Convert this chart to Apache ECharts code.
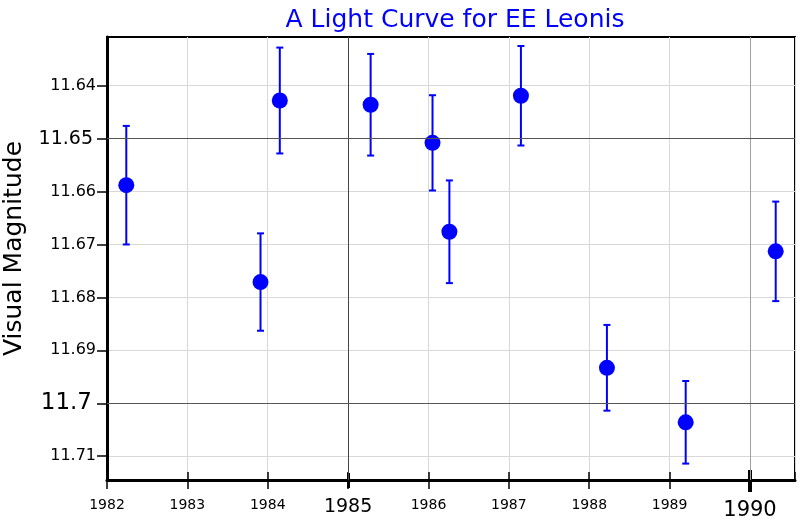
<!DOCTYPE html>
<html>
<head>
<meta charset="utf-8">
<script src="https://cdn.jsdelivr.net/npm/echarts@6/dist/echarts.min.js"></script>
<style>html,body{margin:0;padding:0;background:#fff;}#c{width:800px;height:520px;}</style>
</head>
<body>
<div id="c"></div>
<script>
// ---- data ----
const years  = [1982.24, 1983.91, 1984.15, 1985.28, 1986.05, 1986.26, 1987.15, 1988.22, 1989.20, 1990.32];
const mags   = [11.6588, 11.6771, 11.6428, 11.6436, 11.6508, 11.6676, 11.6419, 11.6933, 11.7036, 11.6713];
const errors = [0.0112, 0.0092, 0.0100, 0.0096, 0.0090, 0.0097, 0.0094, 0.0081, 0.0078, 0.0094];
const yTicks = [11.64, 11.65, 11.66, 11.67, 11.68, 11.69, 11.70, 11.71];
const xMajor = [1985, 1990];
const yMajor = [11.65, 11.70];
const xRange = [1982, 1990.56];
const yRange = [11.6308, 11.7145];

const FONT = 'DejaVu Sans';
const pts = years.map((x, i) => [x, mags[i]]);
const bars = years.map((x, i) => [x, mags[i] - errors[i], mags[i] + errors[i]]);

const chart = echarts.init(document.getElementById('c'), null, {renderer: 'canvas'});

const gridCfg = {left: 107, top: 37, right: 5, bottom: 40, show: true, borderColor: '#000', borderWidth: 2,
  backgroundColor: 'transparent', containLabel: false, outerBoundsMode: 'none'};

function xAxisBase(extra) {
  return Object.assign({
    type: 'value', min: xRange[0], max: xRange[1], interval: 1, position: 'bottom',
    axisLine: {show: false}, axisLabel: {show: false}, splitLine: {show: false},
    axisTick: {show: false}
  }, extra);
}
function tick(inside, len, width, values) {
  const t = {show: true, inside: inside, length: len, lineStyle: {color: '#000', width: width}};
  if (values) t.customValues = values;
  return {axisTick: t};
}

const option = {
  backgroundColor: '#fff',
  animation: false,
  title: {
    text: 'A Light Curve for EE Leonis',
    left: 450, top: 3, textAlign: 'center',
    textStyle: {color: '#0000ff', fontSize: 25, fontWeight: 'normal', fontFamily: FONT}
  },
  grid: gridCfg,
  xAxis: [
    xAxisBase({
      axisLine: {show: true, onZero: false, lineStyle: {color: '#000', width: 3}},
      axisTick: {show: true, inside: false, length: 9, lineStyle: {color: '#000', width: 1.5}},
      splitLine: {show: true, lineStyle: {color: '#d8d8d8', width: 1}},
      axisLabel: {
        show: true, margin: 18, fontFamily: FONT, color: '#000',
        formatter: function (v) {
          if (v === 1990) return '{big|1990}';
          if (v === 1985) return '{mid|1985}';
          return '{sm|' + v + '}';
        },
        rich: {
          sm: {fontSize: 14, fontFamily: FONT, color: '#000'},
          mid: {fontSize: 19, fontFamily: FONT, color: '#000'},
          big: {fontSize: 21, fontFamily: FONT, color: '#000', padding: [2, 0, 0, 0]}
        }
      }
    }),
    xAxisBase(tick(true, 8, 1.5)),
    xAxisBase(tick(false, 8, 3, [xMajor[0]])),
    xAxisBase(tick(true, 7, 3, [xMajor[0]])),
    xAxisBase(tick(false, 12, 4, [xMajor[1]])),
    xAxisBase(tick(true, 10, 4, [xMajor[1]]))
  ],
  yAxis: {
    type: 'value', inverse: true, min: yRange[0], max: yRange[1],
    name: 'Visual Magnitude', nameLocation: 'middle', nameRotate: 90, nameGap: 80,
    nameTextStyle: {fontSize: 25, fontFamily: FONT, color: '#000', padding: [0, 0, 0, 20]},
    axisLine: {show: true, onZero: false, lineStyle: {color: '#000', width: 3}},
    axisTick: {show: true, inside: false, length: 10, customValues: yTicks, lineStyle: {color: '#000', width: 1.5}},
    splitLine: {show: true, lineStyle: {color: '#d8d8d8', width: 1}},
    axisLabel: {
      show: true, margin: 11, customValues: yTicks, fontFamily: FONT, color: '#000',
      formatter: function (v) {
        const s = v.toFixed(2);
        if (s === '11.70') return '{big|11.7}';
        if (s === '11.65') return '{mid|11.65}';
        return '{sm|' + s + '}';
      },
      rich: {
        sm: {fontSize: 16, fontFamily: FONT, color: '#000'},
        mid: {fontSize: 19, fontFamily: FONT, color: '#000', padding: [0, 3, 0, 0]},
        big: {fontSize: 23, fontFamily: FONT, color: '#000', padding: [0, 4, 0, 0]}
      }
    }
  },
  series: [
    {
      type: 'line', data: [], xAxisIndex: 0, yAxisIndex: 0, z: 1, silent: true,
      markLine: {
        silent: true, symbol: 'none', label: {show: false}, animation: false,
        data: xMajor.map((v, i) => ({xAxis: v, lineStyle: {color: i === 0 ? '#444' : '#a0a0a0', width: 1, type: 'solid'}}))
          .concat(yMajor.map(v => ({yAxis: v, lineStyle: {color: '#555', width: 1, type: 'solid'}})))
      }
    },
    {
      type: 'custom', xAxisIndex: 0, yAxisIndex: 0, z: 3, data: bars,
      renderItem: function (params, api) {
        const x = api.value(0);
        const p1 = api.coord([x, api.value(1)]);
        const p2 = api.coord([x, api.value(2)]);
        const cap = 3.5;
        const st = {stroke: '#0000ff', lineWidth: 2};
        return {
          type: 'group',
          children: [
            {type: 'line', shape: {x1: p1[0], y1: p1[1], x2: p2[0], y2: p2[1]}, style: st},
            {type: 'line', shape: {x1: p1[0] - cap, y1: p1[1], x2: p1[0] + cap, y2: p1[1]}, style: st},
            {type: 'line', shape: {x1: p2[0] - cap, y1: p2[1], x2: p2[0] + cap, y2: p2[1]}, style: st}
          ]
        };
      }
    },
    {
      type: 'scatter', xAxisIndex: 0, yAxisIndex: 0, z: 4, data: pts,
      symbol: 'circle', symbolSize: 16, itemStyle: {color: '#0000ff', opacity: 1}
    }
  ]
};
chart.setOption(option);
</script>
</body>
</html>
